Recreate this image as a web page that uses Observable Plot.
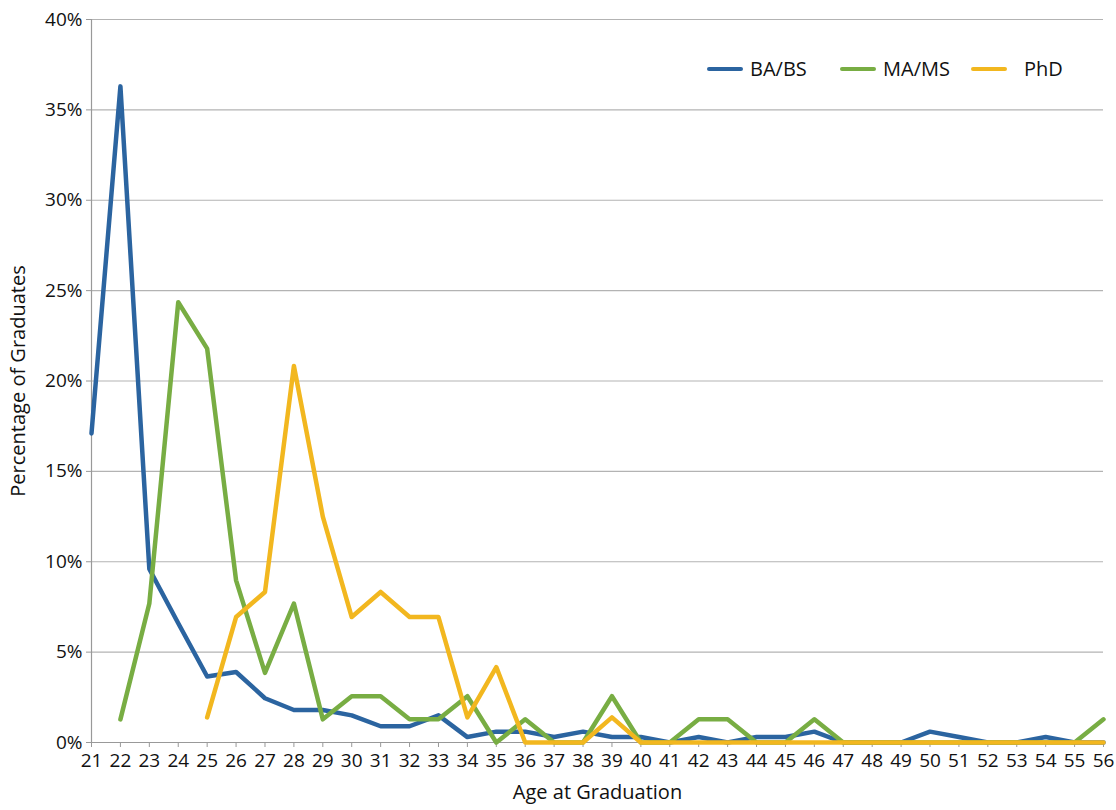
<!DOCTYPE html>
<html>
<head>
<meta charset="utf-8">
<script src="https://cdn.jsdelivr.net/npm/d3@7"></script>
<script src="https://cdn.jsdelivr.net/npm/@observablehq/plot@0.6"></script>
<style>
  html, body { margin: 0; padding: 0; background: #fff; }
  #wrap { position: relative; width: 1116px; height: 810px; }
  #wrap svg g[aria-label="y-axis tick label"], #wrap svg g[aria-label="x-axis tick label"] { font-size: 19px !important; fill: #111; }
  #wrap svg g[aria-label="text"] { font-size: 20px !important; }
  #legend { position: absolute; top: 0; left: 0; font-family: "Open Sans", sans-serif; font-size: 20px; color: #111; }
  .item { position: absolute; top: 55px; display: flex; align-items: center; white-space: nowrap; }
  .sw { display: inline-block; width: 36px; height: 4px; border-radius: 2px; margin-right: 7px; }
</style>
</head>
<body>
<div id="wrap"><div id="legend"></div></div>
<script>
const ages = d3.range(21, 57);
const seriesNames = ["BA/BS", "MA/MS", "PhD"];
const seriesColors = ["#2b64a0", "#78ad43", "#f2b71f"];
// values in percent, index 0 = age 21; null = no value
const baBs = [17.1, 36.3, 9.6, 6.6, 3.65, 3.9, 2.45, 1.8, 1.8, 1.5, 0.9, 0.9, 1.5, 0.3, 0.6, 0.6, 0.3, 0.6, 0.3, 0.3, 0, 0.3, 0, 0.3, 0.3, 0.6, 0, 0, 0, 0.6, 0.3, 0, 0, 0.3, 0, 0];
const maMs = [null, 1.28, 7.69, 24.36, 21.79, 8.97, 3.85, 7.69, 1.28, 2.56, 2.56, 1.28, 1.28, 2.56, 0, 1.28, 0, 0, 2.56, 0, 0, 1.28, 1.28, 0, 0, 1.28, 0, 0, 0, 0, 0, 0, 0, 0, 0, 1.28];
const phd = [null, null, null, null, 1.39, 6.94, 8.33, 20.83, 12.5, 6.94, 8.33, 6.94, 6.94, 1.39, 4.17, 0, 0, 0, 1.39, 0, 0, 0, 0, 0, 0, 0, 0, 0, 0, 0, 0, 0, 0, 0, 0, 0];
const yTicks = [0, 5, 10, 15, 20, 25, 30, 35, 40];

const allSeries = [baBs, maMs, phd];
const data = [];
allSeries.forEach((vals, i) => {
  vals.forEach((v, j) => {
    if (v !== null) data.push({ series: seriesNames[i], age: ages[j], value: v });
  });
});

const chart = Plot.plot({
  width: 1116,
  height: 810,
  marginLeft: 91,
  marginRight: 13,
  marginTop: 19,
  marginBottom: 68,
  style: { fontFamily: "'Open Sans', sans-serif", fontSize: "19px", color: "#111", background: "#fff" },
  x: { domain: [21, 56], ticks: ages },
  y: { domain: [0, 40], ticks: yTicks },
  color: { domain: seriesNames, range: seriesColors },
  marks: [
    Plot.gridY(yTicks.slice(1), { stroke: "#b3b3b3", strokeOpacity: 1, strokeWidth: 1.2 }),
    Plot.ruleY([0], { stroke: "#999", strokeWidth: 1.2 }),
    Plot.ruleX([21], { stroke: "#999", strokeWidth: 1.2 }),
    Plot.axisY(yTicks, { tickSize: 5, tickPadding: 4, stroke: "#999", tickFormat: d => d + "%", label: null }),
    Plot.axisX(ages, { tickSize: 5, tickPadding: 6, stroke: "#999", tickFormat: d => String(d), label: null }),
    Plot.text(["Age at Graduation"], { frameAnchor: "bottom", dy: 56, fontSize: 20, fill: "#111" }),
    Plot.text(["Percentage of Graduates"], { frameAnchor: "left", textAnchor: "middle", dx: -73, rotate: -90, fontSize: 20, fill: "#111" }),
    Plot.line(data, { x: "age", y: "value", z: "series", stroke: "series", strokeWidth: 4.5, strokeLinejoin: "round", strokeLinecap: "round" })
  ]
});
const wrap = document.getElementById("wrap");
wrap.insertBefore(chart, wrap.firstChild);

const legend = document.getElementById("legend");
const legendLeft = [707, 840, 971];
seriesNames.forEach((name, i) => {
  const item = document.createElement("span");
  item.className = "item";
  item.style.left = legendLeft[i] + "px";
  const sw = document.createElement("span");
  sw.className = "sw";
  sw.style.background = seriesColors[i];
  if (name === "PhD") sw.style.marginRight = "17px";
  item.appendChild(sw);
  item.appendChild(document.createTextNode(name));
  legend.appendChild(item);
});
</script>
</body>
</html>
